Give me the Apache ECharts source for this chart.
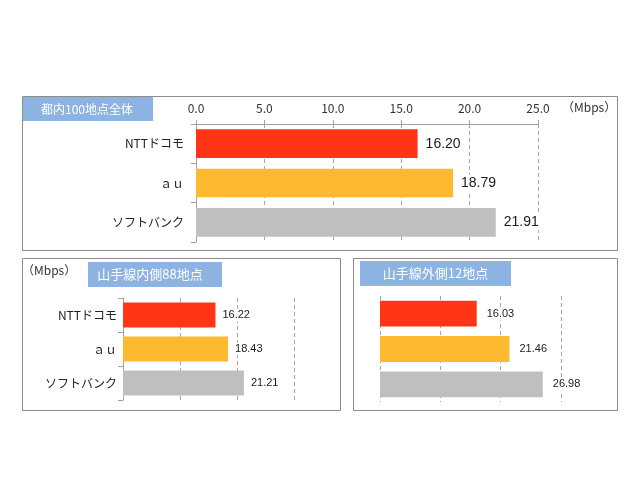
<!DOCTYPE html>
<html>
<head>
<meta charset="utf-8">
<script src="https://cdn.jsdelivr.net/npm/echarts@6/dist/echarts.min.js"></script>
<style>
html,body{margin:0;padding:0;background:#fff;}
#chart{width:640px;height:480px;}
</style>
</head>
<body>
<div id="chart"></div>
<script>
// ---- data ----
const categories = ['NTTドコモ', 'ａｕ', 'ソフトバンク'];
const allValues = [16.20, 18.79, 21.91];      // 都内100地点全体
const insideValues = [16.22, 18.43, 21.21];   // 山手線内側88地点
const outsideValues = [16.03, 21.46, 26.98];  // 山手線外側12地点
const topTicks = [0, 5, 10, 15, 20, 25];
const panelTitles = ['都内100地点全体', '山手線内側88地点', '山手線外側12地点'];
const unitLabel = '（Mbps）';

// ---- styles ----
const barColors = ['#FF3516', '#FDBA31', '#BFBFBF'];
const jp = 'Noto Sans CJK JP';
const dash = { color: '#A6A6A6', type: [4, 3], width: 1 };

const chart = echarts.init(document.getElementById('chart'));

function barSeries(idx, data, fontSize, gap, dist) {
  return {
    type: 'bar',
    xAxisIndex: idx,
    yAxisIndex: idx,
    data: data,
    barCategoryGap: gap,
    itemStyle: { color: p => barColors[p.dataIndex] },
    label: {
      show: true,
      position: 'right',
      distance: dist,
      formatter: p => p.value.toFixed(2),
      fontFamily: 'Liberation Sans, Arial, sans-serif',
      fontSize: fontSize,
      color: '#1a1a1a',
      backgroundColor: '#fff',
      padding: [1, 2]
    },
    silent: true,
    animation: false
  };
}

const option = {
  backgroundColor: '#fff',
  animation: false,
  grid: [
    { left: 196, top: 124, width: 342, height: 118 },
    { left: 123, top: 298, width: 171, height: 102 },
    { left: 380, top: 296, width: 181, height: 106 }
  ],
  xAxis: [
    {
      gridIndex: 0, type: 'value', position: 'top',
      min: topTicks[0], max: topTicks[topTicks.length - 1], interval: topTicks[1] - topTicks[0],
      axisLine: { show: true, lineStyle: { color: '#A0A0A0' } },
      axisTick: { show: true, length: 4, lineStyle: { color: '#A0A0A0' } },
      axisLabel: { formatter: v => v.toFixed(1), fontFamily: jp, fontSize: 12, color: '#333', margin: 10 },
      splitLine: { show: true, lineStyle: dash }
    },
    {
      gridIndex: 1, type: 'value', min: 0, max: 30, interval: 10,
      axisLine: { show: false }, axisTick: { show: false }, axisLabel: { show: false },
      splitLine: { show: true, lineStyle: dash }
    },
    {
      gridIndex: 2, type: 'value', min: 0, max: 30, interval: 10,
      axisLine: { show: false }, axisTick: { show: false }, axisLabel: { show: false },
      splitLine: { show: true, lineStyle: dash }
    }
  ],
  yAxis: [
    {
      gridIndex: 0, type: 'category', data: categories, inverse: true,
      axisLine: { show: true, lineStyle: { color: '#A0A0A0' } },
      axisTick: { show: true, length: 5, lineStyle: { color: '#A0A0A0' } },
      axisLabel: { fontFamily: jp, fontSize: 12, color: '#222', margin: 12 }
    },
    {
      gridIndex: 1, type: 'category', data: categories, inverse: true,
      axisLine: { show: true, lineStyle: { color: '#A0A0A0' } },
      axisTick: { show: true, length: 5, lineStyle: { color: '#A0A0A0' } },
      axisLabel: { fontFamily: jp, fontSize: 12, color: '#222', margin: 6 }
    },
    {
      gridIndex: 2, type: 'category', data: categories, inverse: true,
      axisLine: { show: false }, axisTick: { show: false }, axisLabel: { show: false }
    }
  ],
  series: [
    barSeries(0, allValues, 14, '27%', 6),
    barSeries(1, insideValues, 11, '27%', 5),
    barSeries(2, outsideValues, 11, '27%', 8)
  ],
  graphic: [
    // panel frames
    { type: 'rect', shape: { x: 22.5, y: 96.5, width: 595, height: 154 }, style: { fill: 'none', stroke: '#8C8C8C', lineWidth: 1 }, silent: true },
    { type: 'rect', shape: { x: 22.5, y: 258.5, width: 318, height: 152 }, style: { fill: 'none', stroke: '#8C8C8C', lineWidth: 1 }, silent: true },
    { type: 'rect', shape: { x: 353.5, y: 258.5, width: 264, height: 152 }, style: { fill: 'none', stroke: '#8C8C8C', lineWidth: 1 }, silent: true },
    // title boxes
    { type: 'rect', shape: { x: 23, y: 97, width: 130, height: 24 }, style: { fill: '#8DB3E2' }, silent: true },
    { type: 'text', style: { text: panelTitles[0], x: 87, y: 109, textAlign: 'center', textVerticalAlign: 'middle', fill: '#fff', font: '12px "Noto Sans CJK JP"' }, silent: true },
    { type: 'rect', shape: { x: 88, y: 262, width: 134, height: 25 }, style: { fill: '#8DB3E2' }, silent: true },
    { type: 'text', style: { text: panelTitles[1], x: 150, y: 274.5, textAlign: 'center', textVerticalAlign: 'middle', fill: '#fff', font: '13px "Noto Sans CJK JP"' }, silent: true },
    { type: 'rect', shape: { x: 360, y: 261, width: 151, height: 25 }, style: { fill: '#8DB3E2' }, silent: true },
    { type: 'text', style: { text: panelTitles[2], x: 435.5, y: 273.5, textAlign: 'center', textVerticalAlign: 'middle', fill: '#fff', font: '13px "Noto Sans CJK JP"' }, silent: true },
    // unit labels
    { type: 'text', style: { text: unitLabel, x: 562, y: 107, textAlign: 'left', textVerticalAlign: 'middle', fill: '#333', font: '12px "Noto Sans CJK JP"' }, silent: true },
    { type: 'text', style: { text: unitLabel, x: 22, y: 270, textAlign: 'left', textVerticalAlign: 'middle', fill: '#333', font: '12px "Noto Sans CJK JP"' }, silent: true }
  ]
};

chart.setOption(option);
</script>
</body>
</html>
